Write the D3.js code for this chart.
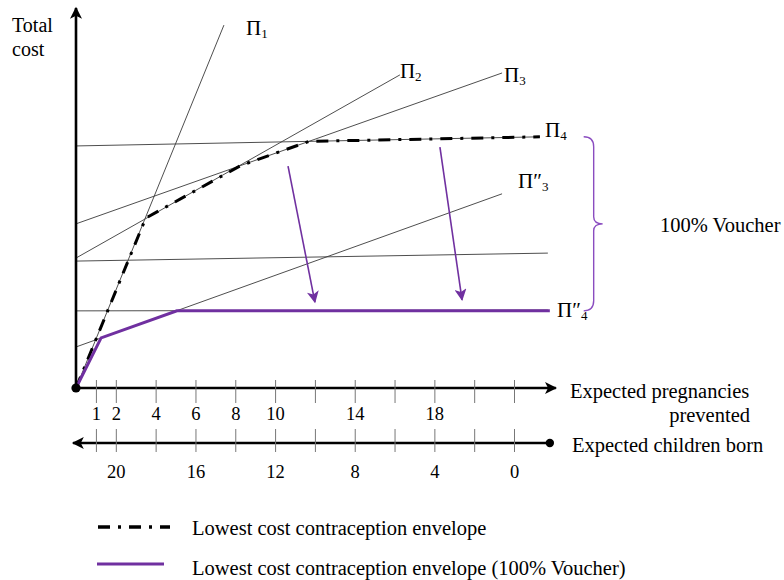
<!DOCTYPE html>
<html>
<head>
<meta charset="utf-8">
<script src="https://cdn.jsdelivr.net/npm/d3@7"></script>
<style>
  body { margin: 0; background: #fff; }
  svg { display: block; font-family: "Liberation Serif", "Times New Roman", serif; }
</style>
</head>
<body>
<svg width="784" height="580"></svg>
<script>
// x = expected pregnancies prevented, y = total cost (arbitrary units)
const tickVals = [1, 2, 4, 6, 8, 10, 12, 14, 16, 18, 20, 22];
const topLabels = [1, 2, 4, 6, 8, 10, 14, 18];
const childLabels = [20, 16, 12, 8, 4, 0];
const maxPregnancies = 22;

// cost lines Π, each from a start point to an end point
const lineStarts = [[0, 0], [0, 34.2], [0, 43.2], [0, 63.7], [0, 33.4], [0, 10.8], [0, 20.3]];
const lineEnds = [[7.43, 95.5], [16.27, 82.4], [21.4, 82.9], [23.3, 66.1], [23.7, 35.5], [21.4, 51.1], [23.7, 20.5]];

// labels: base, primes, subscript, anchor point
const labelBase = ["Π", "Π", "Π", "Π", "Π", "Π"];
const labelPrime = ["", "", "", "", "″", "″"];
const labelSub = ["1", "2", "3", "4", "3", "4"];
const labelPos = [[8.54, 92.9], [16.27, 81.6], [21.5, 80.5], [23.56, 66.1], [22.2, 52.6], [24.16, 18.7]];

const envelope = [[0, 0], [3.5, 44.7], [8.3, 58.6], [11.7, 64.9], [23.3, 66.1]];
const voucherEnvelope = [[0, 0], [1.26, 13.2], [5.07, 20.3], [23.8, 20.3]];
const shiftFrom = [[10.65, 58.4], [18.28, 63.4]];
const shiftTo = [[12.0, 22.6], [19.39, 23.2]];
const braceSpan = [20.3, 66.1];
const braceAt = 25.5;

const purple = "#7030a0";
const dashDot = "12 8 3 8";
const svg = d3.select("svg");

const x = d3.scaleLinear().domain([0, maxPregnancies]).range([76, 514]);
const xChild = d3.scaleLinear().domain([maxPregnancies, 0]).range([76, 514]);
const y = d3.scaleLinear().domain([0, 100]).range([388, 8]);

const defs = svg.append("defs");
function marker(id, color, w, h) {
    defs.append("marker")
        .attr("id", id)
        .attr("viewBox", "0 0 10 10")
        .attr("refX", 9).attr("refY", 5)
        .attr("markerUnits", "userSpaceOnUse")
        .attr("markerWidth", w).attr("markerHeight", h)
        .attr("orient", "auto")
        .append("path")
        .attr("d", "M0,0 L10,5 L0,10 L2.5,5 Z")
        .attr("fill", color);
}
marker("arrowBlack", "#000", 15, 12);
marker("arrowPurple", purple, 13, 12);

// thin cost lines
svg.append("g")
    .selectAll("line")
    .data(lineStarts)
    .enter().append("line")
        .attr("x1", d => x(d[0]))
        .attr("y1", d => y(d[1]))
        .attr("x2", (d, i) => x(lineEnds[i][0]))
        .attr("y2", (d, i) => y(lineEnds[i][1]))
        .attr("stroke", "#3a3a3a")
        .attr("stroke-width", 0.9);

const line = d3.line().x(d => x(d[0])).y(d => y(d[1]));

svg.append("path")
    .attr("d", line(envelope))
    .attr("fill", "none")
    .attr("stroke", "#000")
    .attr("stroke-width", 3)
    .attr("stroke-dasharray", dashDot);

svg.append("path")
    .attr("d", line(voucherEnvelope))
    .attr("fill", "none")
    .attr("stroke", purple)
    .attr("stroke-width", 3);

// downward shift arrows
svg.append("g")
    .selectAll("line")
    .data(shiftFrom)
    .enter().append("line")
        .attr("x1", d => x(d[0]))
        .attr("y1", d => y(d[1]))
        .attr("x2", (d, i) => x(shiftTo[i][0]))
        .attr("y2", (d, i) => y(shiftTo[i][1]))
        .attr("stroke", purple)
        .attr("stroke-width", 1.6)
        .attr("marker-end", "url(#arrowPurple)");

// Π labels
const labels = svg.append("g")
    .selectAll("text")
    .data(labelPos)
    .enter().append("text")
        .attr("x", d => x(d[0]))
        .attr("y", d => y(d[1]))
        .attr("font-size", 21);
labels.append("tspan").text((d, i) => labelBase[i] + labelPrime[i]);
labels.append("tspan")
    .attr("font-size", 13)
    .attr("dy", 3)
    .text((d, i) => labelSub[i]);

// main axes
svg.append("line")
    .attr("x1", x(0)).attr("y1", y(0))
    .attr("x2", x(0)).attr("y2", y(100))
    .attr("stroke", "#000").attr("stroke-width", 2.6)
    .attr("marker-end", "url(#arrowBlack)");
svg.append("line")
    .attr("x1", x(0)).attr("y1", y(0))
    .attr("x2", x(24.1)).attr("y2", y(0))
    .attr("stroke", "#000").attr("stroke-width", 2.6)
    .attr("marker-end", "url(#arrowBlack)");

const topAxis = svg.append("g")
    .attr("transform", "translate(0," + y(0) + ")")
    .call(d3.axisBottom(x)
        .tickValues(tickVals)
        .tickSize(15)
        .tickFormat(d => topLabels.includes(d) ? d : ""));
topAxis.select(".domain").remove();
topAxis.selectAll(".tick line").attr("y1", -8).attr("stroke", "#777").attr("stroke-width", 1);
topAxis.selectAll(".tick text")
    .attr("y", 19)
    .attr("font-size", 18.5)
    .attr("font-family", "Liberation Serif")
    .attr("fill", "#000");

// children born axis
const childY = 443;
svg.append("line")
    .attr("x1", xChild(maxPregnancies - 23.8)).attr("y1", childY)
    .attr("x2", xChild(maxPregnancies + 0.15)).attr("y2", childY)
    .attr("stroke", "#000").attr("stroke-width", 2.6)
    .attr("marker-end", "url(#arrowBlack)");
svg.append("circle")
    .attr("cx", xChild(maxPregnancies - 23.8)).attr("cy", childY)
    .attr("r", 4.2).attr("fill", "#000");

const bottomAxis = svg.append("g")
    .attr("transform", "translate(0," + childY + ")")
    .call(d3.axisBottom(xChild)
        .tickValues(tickVals.map(v => maxPregnancies - v))
        .tickSize(9)
        .tickFormat(d => childLabels.includes(d) ? d : ""));
bottomAxis.select(".domain").remove();
bottomAxis.selectAll(".tick line").attr("y1", -14).attr("stroke", "#777").attr("stroke-width", 1);
bottomAxis.selectAll(".tick text")
    .attr("y", 22)
    .attr("font-size", 18.5)
    .attr("font-family", "Liberation Serif")
    .attr("fill", "#000");

svg.append("circle")
    .attr("cx", x(0)).attr("cy", y(0))
    .attr("r", 4.6).attr("fill", "#000");

// brace for voucher shift
const bx = x(braceAt), bTop = y(braceSpan[1]), bBot = y(braceSpan[0]), bMid = (bTop + bBot) / 2;
svg.append("path")
    .attr("d", `M${bx},${bTop} Q${bx + 10},${bTop} ${bx + 10},${bTop + 10}
                L${bx + 10},${bMid - 7} Q${bx + 10},${bMid} ${bx + 19},${bMid}
                Q${bx + 10},${bMid} ${bx + 10},${bMid + 7}
                L${bx + 10},${bBot - 10} Q${bx + 10},${bBot} ${bx},${bBot}`)
    .attr("fill", "none")
    .attr("stroke", "#8a4cc0")
    .attr("stroke-width", 1.4);

// text
const txt = (s, tx, ty, size, anchor) => svg.append("text")
    .attr("x", tx).attr("y", ty)
    .attr("font-size", size)
    .attr("text-anchor", anchor || "start")
    .text(s);

txt("Total", 12, 32, 20);
txt("cost", 12, 56, 20);
txt("100% Voucher", 660, 232, 20.5);
txt("Expected pregnancies", 570, 398, 20.5);
txt("prevented", 750, 422, 20.5, "end");
txt("Expected children born", 572, 452, 20.5);

// legend
svg.append("line")
    .attr("x1", 98).attr("y1", 527).attr("x2", 170).attr("y2", 527)
    .attr("stroke", "#000").attr("stroke-width", 3.5)
    .attr("stroke-dasharray", dashDot);
txt("Lowest cost contraception envelope", 192, 535, 20.5);
svg.append("line")
    .attr("x1", 97).attr("y1", 564).attr("x2", 164).attr("y2", 564)
    .attr("stroke", purple).attr("stroke-width", 3);
txt("Lowest cost contraception envelope (100% Voucher)", 192, 575, 20.5);
</script>
</body>
</html>
